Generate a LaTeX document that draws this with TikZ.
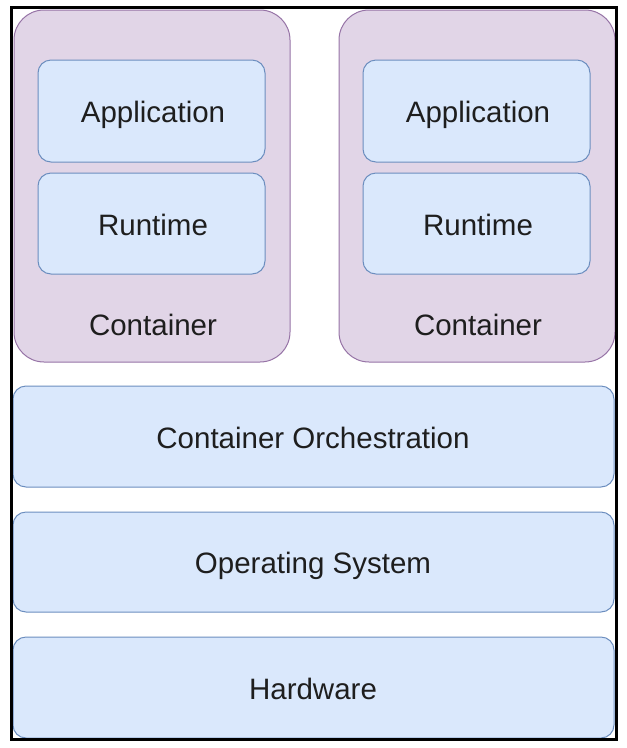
\documentclass[tikz,border=0pt]{standalone}
\usepackage{fontspec}
\setmainfont{Liberation Sans}
\definecolor{cfill}{HTML}{E1D5E7}
\definecolor{cdraw}{HTML}{9673A6}
\definecolor{bfill}{HTML}{DAE8FC}
\definecolor{bdraw}{HTML}{6C8EBF}
\definecolor{txt}{HTML}{1E1E1E}
\tikzset{
  cont/.style={draw=cdraw, fill=cfill, line width=1pt, rounded corners=30pt},
  layer/.style={draw=bdraw, fill=bfill, line width=1pt, rounded corners=13pt},
  lbl/.style={font=\fontsize{29.5}{34}\selectfont, text=txt, inner sep=0pt, anchor=base}
}
\begin{document}
\begin{tikzpicture}[x=1pt,y=-1pt]
\useasboundingbox (0,0) rectangle (627,748);
% containers
\draw[cont] (14,10) rectangle (290,362);
\draw[cont] (339,10) rectangle (615,362);
% inner layers
\draw[layer] (38,60) rectangle (265,162);
\draw[layer] (38,173) rectangle (265,274);
\draw[layer] (363,60) rectangle (590,162);
\draw[layer] (363,173) rectangle (590,274);
% bottom layers
\draw[layer] (13,386) rectangle (614,487);
\draw[layer] (13,512) rectangle (614,612);
\draw[layer] (13,637) rectangle (614,738);
% labels
\node[lbl] (app1) at (153,122) {Application};
\node[lbl] (rt1) at (153,235) {Runtime};
\node[lbl] (c1) at (153,335) {Container};
\node[lbl] (app2) at (478,122) {Application};
\node[lbl] (rt2) at (478,235) {Runtime};
\node[lbl] (c2) at (478,335) {Container};
\node[lbl] (orch) at (313,448) {Container Orchestration};
\node[lbl] (os) at (313,573) {Operating System};
\node[lbl] (hw) at (313,699) {Hardware};
% frame
\draw[black, line width=3pt] (11.5,7.5) rectangle (616.5,739.5);
\end{tikzpicture}
\end{document}
